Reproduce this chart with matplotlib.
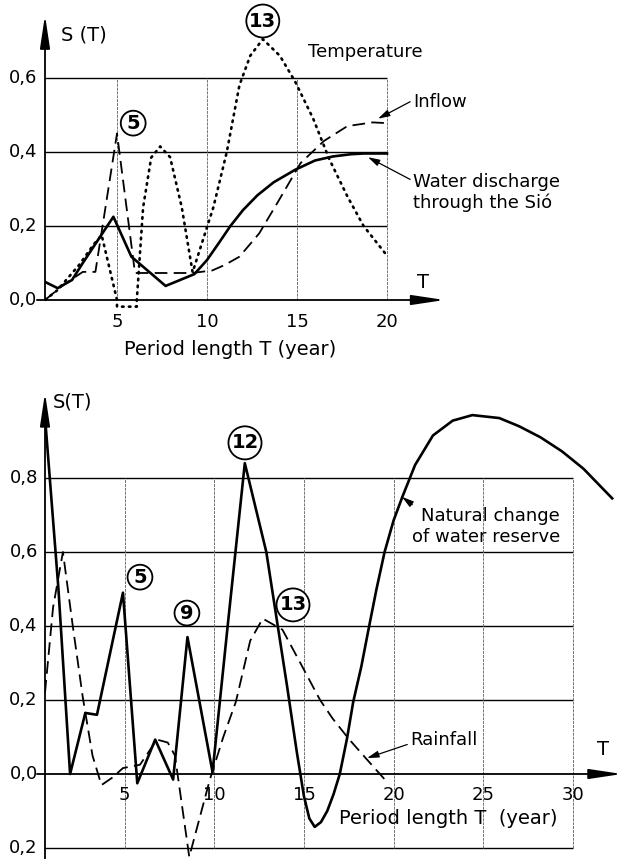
import matplotlib.pyplot as plt

plt.rcParams['font.family'] = ['DejaVu Sans']

# --- top chart: Balaton water balance spectra (T in years) ---
discharge_T = [1.0, 1.7, 2.5, 3.1, 4.05, 4.8, 5.8, 7.7, 9.3, 10.0, 10.7, 11.3, 12.0,
               12.8, 13.7, 14.9, 16.0, 17.0, 18.0, 18.7, 20.0]
discharge_S = [0.049, 0.032, 0.054, 0.10, 0.17, 0.225, 0.117, 0.038, 0.07, 0.108, 0.157,
               0.20, 0.243, 0.283, 0.318, 0.352, 0.377, 0.388, 0.394, 0.396, 0.396]

inflow_T = [1.0, 2.0, 3.1, 3.8, 5.0, 6.0, 9.2, 10.3, 11.0, 11.8, 12.9, 14.0, 15.2,
            16.5, 17.8, 19.2, 20.0]
inflow_S = [0.0, 0.04, 0.076, 0.076, 0.45, 0.073, 0.073, 0.08, 0.095, 0.117, 0.18, 0.27,
            0.37, 0.43, 0.47, 0.48, 0.478]

temp_T = [1.0, 1.7, 2.9, 3.7, 4.15, 5.0, 5.0, 6.1, 6.1, 6.45, 6.9, 7.4, 7.95, 8.6, 9.2,
          10.35, 11.1, 11.8, 12.4, 13.1, 14.05, 14.9, 15.9, 16.8, 17.8, 18.7, 20.0]
temp_S = [0.0, 0.027, 0.095, 0.15, 0.175, 0.0, -0.018, -0.018, 0.0, 0.25, 0.385, 0.415,
          0.386, 0.25, 0.075, 0.25, 0.40, 0.58, 0.66, 0.705, 0.66, 0.59, 0.49, 0.38, 0.28,
          0.20, 0.12]

top_yticks = [0.0, 0.2, 0.4, 0.6]
top_ylabels = ['0,0', '0,2', '0,4', '0,6']
top_xticks = [5, 10, 15, 20]

# --- bottom chart ---
nat_T = [0.55, 1.3, 1.95, 2.8, 3.45, 4.9, 5.7, 6.7, 7.7, 8.5, 9.9, 10.7, 11.7, 12.9,
         14.05, 14.6, 15.0, 15.3, 15.6, 15.95, 16.3, 16.65, 17.0, 17.4, 17.75, 18.2,
         18.6, 19.05, 19.5, 20.0, 20.5, 21.2, 22.2, 23.3, 24.4, 25.9, 27.0, 28.2, 29.4,
         30.6, 32.2]
nat_S = [0.965, 0.50, 0.0, 0.165, 0.16, 0.49, -0.025, 0.093, -0.015, 0.37, 0.005, 0.38,
         0.84, 0.6, 0.24, 0.06, -0.06, -0.12, -0.143, -0.13, -0.10, -0.055, 0.0, 0.095,
         0.195, 0.29, 0.39, 0.50, 0.6, 0.685, 0.75, 0.835, 0.915, 0.955, 0.97, 0.962,
         0.94, 0.91, 0.872, 0.825, 0.745]

rain_T = [0.55, 1.0, 1.55, 2.1, 2.65, 3.2, 3.7, 4.3, 4.9, 5.85, 6.8, 7.4, 7.8, 8.6, 9.75,
          10.5, 11.2, 12.0, 12.7, 13.8, 14.8, 15.9, 16.6, 17.5, 18.5, 19.7]
rain_S = [0.22, 0.45, 0.60, 0.40, 0.21, 0.05, -0.03, -0.01, 0.016, 0.025, 0.093, 0.085,
          0.05, -0.224, -0.015, 0.10, 0.195, 0.36, 0.42, 0.39, 0.30, 0.20, 0.15, 0.095,
          0.04, -0.025]

bot_yticks = [-0.2, 0.0, 0.2, 0.4, 0.6, 0.8]
bot_ylabels = ['0,2', '0,0', '0,2', '0,4', '0,6', '0,8']
bot_xticks = [5, 10, 15, 20, 25, 30]

FS = 13
solid = dict(color='black', lw=1.9, solid_joinstyle='round')
dashed = dict(color='black', lw=1.3, linestyle=(0, (7, 3.5)))
dotted = dict(color='black', lw=1.9, linestyle=(0, (0.6, 2.0)), dash_capstyle='round')
axis_arrow = dict(arrowstyle='-|>,head_length=1.0,head_width=0.15', lw=1.3,
                  color='black', shrinkA=0, shrinkB=0, mutation_scale=20)
pointer = dict(arrowstyle='-|>,head_length=0.7,head_width=0.2', lw=0.9,
               color='black', shrinkA=0, shrinkB=0, mutation_scale=10)
circle = dict(boxstyle='circle,pad=0.15', fc='white', ec='black', lw=1.3)

fig = plt.figure(figsize=(6.23, 8.59), dpi=100)

# ================= top chart =================
ax1 = fig.add_axes([45 / 623, 1 - 310 / 859, 400 / 623, 300 / 859])
ax1.set_xlim(1, 1 + 400 / 18)
ax1.set_ylim(-10 / 370, 290 / 370)
ax1.axis('off')

ax1.hlines(top_yticks[1:], 0.55, top_xticks[-1], color='black', lw=1.0)
ax1.vlines(top_xticks, 0, top_yticks[-1], color='0.45', lw=0.7, linestyles=(0, (3, 1)))
ax1.annotate('', xy=(1, 0.77), xytext=(1, 0), arrowprops=axis_arrow)
ax1.annotate('', xy=(23.2, 0), xytext=(0.55, 0), arrowprops=axis_arrow)

ax1.plot(temp_T, temp_S, **dotted)
ax1.plot(inflow_T, inflow_S, **dashed)
ax1.plot(discharge_T, discharge_S, **solid)

for v, lab in zip(top_yticks, top_ylabels):
    ax1.text(-0.02, v, lab, transform=ax1.get_yaxis_transform(), ha='right', va='center',
             fontsize=FS)
for t in top_xticks:
    ax1.text(t, -0.06, str(t), ha='center', va='center', fontsize=FS)
ax1.text(11.3, -0.135, 'Period length T (year)', ha='center', va='center', fontsize=14)
ax1.text(1.9, 0.716, 'S (T)', ha='left', va='center', fontsize=14)
ax1.text(22.0, 0.046, 'T', ha='center', va='center', fontsize=14)

ax1.text(5.9, 0.478, '5', ha='center', va='center', fontsize=14, fontweight='bold', bbox=circle)
ax1.text(13.1, 0.754, '13', ha='center', va='center', fontsize=14, fontweight='bold', bbox=circle)

ax1.text(15.6, 0.67, 'Temperature', ha='left', va='center', fontsize=FS)
ax1.annotate('Inflow', xy=(19.5, 0.49), xytext=(21.44, 0.535), ha='left', va='center',
             fontsize=FS, annotation_clip=False, arrowprops=dict(pointer, relpos=(0, 0.6)))
ax1.annotate('Water discharge\nthrough the Sió', xy=(18.94, 0.386), xytext=(21.44, 0.29),
             ha='left', va='center', fontsize=FS, annotation_clip=False,
             arrowprops=dict(pointer, relpos=(0, 0.8)))

# ================= bottom chart =================
ax2 = fig.add_axes([45 / 623, 0, 578 / 623, 481 / 859])
ax2.set_xlim(0.55, 0.55 + 578 / 17.92)
ax2.set_ylim(-85 / 370, 396 / 370)
ax2.axis('off')

ax2.hlines([y for y in bot_yticks if y != 0], 0.1, bot_xticks[-1], color='black', lw=1.0)
ax2.vlines(bot_xticks, bot_yticks[0], bot_yticks[-1], color='0.45', lw=0.7,
           linestyles=(0, (3, 1)))
ax2.annotate('', xy=(0.55, 1.03), xytext=(0.55, -0.23), arrowprops=axis_arrow)
ax2.annotate('', xy=(32.75, 0), xytext=(0.1, 0), arrowprops=axis_arrow)

ax2.plot(rain_T, rain_S, **dashed)
ax2.plot(nat_T, nat_S, **solid)

for v, lab in zip(bot_yticks, bot_ylabels):
    ax2.text(-0.0125, v, lab, transform=ax2.get_yaxis_transform(), ha='right', va='center',
             fontsize=FS)
for t in bot_xticks:
    ax2.text(t, -0.058, str(t), ha='center', va='center', fontsize=FS)
ax2.text(23.04, -0.119, 'Period length T  (year)', ha='center', va='center', fontsize=14)
ax2.text(0.99, 1.005, 'S(T)', ha='left', va='center', fontsize=14)
ax2.text(31.69, 0.065, 'T', ha='center', va='center', fontsize=14)

ax2.text(11.71, 0.895, '12', ha='center', va='center', fontsize=14, fontweight='bold', bbox=circle)
ax2.text(5.85, 0.532, '5', ha='center', va='center', fontsize=14, fontweight='bold', bbox=circle)
ax2.text(8.47, 0.435, '9', ha='center', va='center', fontsize=14, fontweight='bold', bbox=circle)
ax2.text(14.39, 0.457, '13', ha='center', va='center', fontsize=14, fontweight='bold', bbox=circle)

ax2.annotate('Natural change\nof water reserve', xy=(20.47, 0.749), xytext=(29.29, 0.668),
             ha='right', va='center', multialignment='right', fontsize=FS,
             annotation_clip=False, arrowprops=dict(pointer, relpos=(0.08, 0.85)))
ax2.annotate('Rainfall', xy=(18.52, 0.043), xytext=(20.92, 0.092), ha='left', va='center',
             fontsize=FS, annotation_clip=False, arrowprops=dict(pointer, relpos=(0, 0.3)))

fig.savefig('out.png', dpi=100)
